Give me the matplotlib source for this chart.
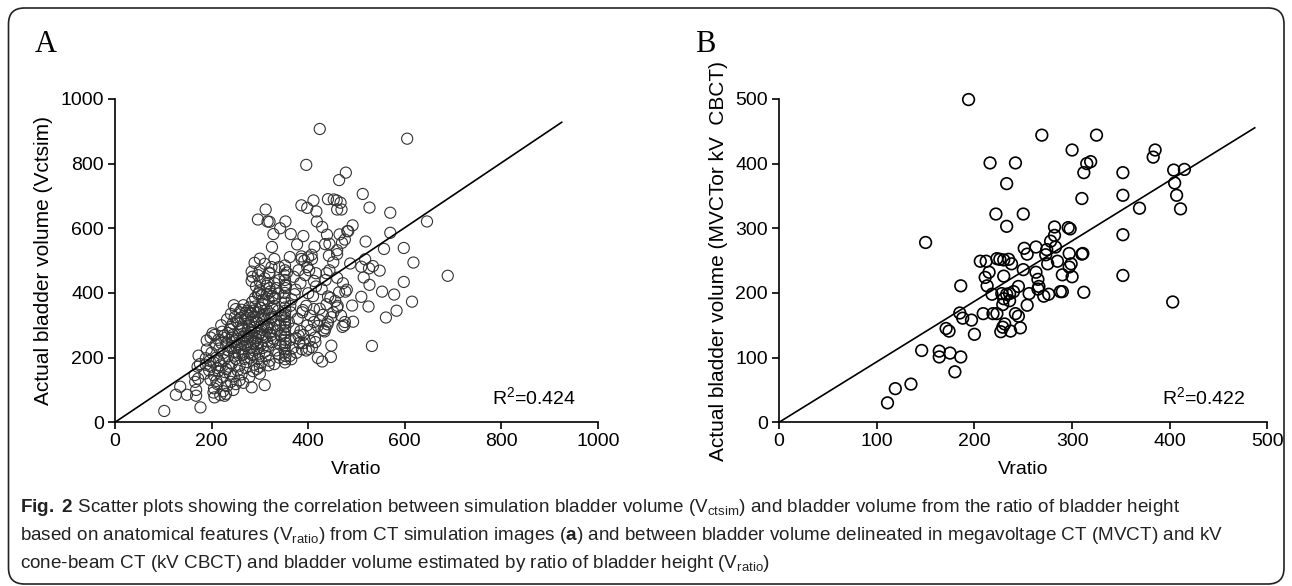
import matplotlib
matplotlib.use("Agg")
import matplotlib.pyplot as plt
from matplotlib.patches import FancyBboxPatch
import numpy as np

plt.rcParams['font.family'] = ['Liberation Sans', 'DejaVu Sans']
plt.rcParams['mathtext.fontset'] = 'custom'
plt.rcParams['mathtext.rm'] = 'Liberation Sans'
plt.rcParams['mathtext.bf'] = 'Liberation Sans:bold'
plt.rcParams['mathtext.it'] = 'Liberation Sans:italic'

# panel A: Vratio vs Vctsim
# sparse / outer points
outer_a = [
    (424, 907), (605, 877), (396, 796), (478, 772), (464, 749), (513, 706),
    (411, 686), (386, 671), (398, 663), (441, 690), (453, 689), (459, 686),
    (467, 679), (460, 658), (469, 658), (312, 658), (296, 627), (316, 621),
    (320, 620), (353, 621), (527, 664), (570, 648), (646, 621), (417, 652),
    (418, 621), (429, 604), (492, 609), (481, 591), (465, 581), (328, 582),
    (364, 582), (342, 600), (390, 576), (439, 580), (570, 586), (519, 559),
    (483, 591), (377, 550), (325, 542), (413, 543), (435, 551), (444, 552),
    (557, 536), (598, 539), (460, 532), (407, 518), (362, 511), (300, 506),
    (289, 493), (386, 513), (443, 515), (487, 491), (518, 504), (618, 494),
    (510, 481), (526, 476), (534, 483), (548, 469), (283, 466), (285, 450),
    (319, 463), (356, 463), (416, 461), (438, 461), (515, 448), (689, 453),
    (598, 434), (283, 437), (314, 422), (354, 422), (412, 437), (460, 447),
    (527, 425), (553, 404), (477, 404), (578, 395), (510, 388), (331, 385),
    (296, 396), (372, 396), (400, 399), (441, 389), (615, 373), (491, 361),
    (525, 358), (561, 324), (583, 345), (461, 360), (424, 351), (389, 347),
    (363, 360), (279, 340), (302, 354), (441, 311), (436, 291), (471, 295),
    (493, 311), (476, 310), (532, 236), (448, 237), (434, 281), (420, 199),
    (447, 202), (429, 188), (380, 268), (363, 255), (403, 253), (415, 248),
    (387, 226), (401, 227), (365, 195), (310, 115), (283, 108), (227, 82),
    (177, 46), (102, 35), (126, 85), (135, 110), (149, 85), (168, 82),
    (168, 100), (166, 125), (165, 146), (171, 172), (173, 206), (190, 253),
    (188, 198), (202, 275), (198, 172), (198, 131), (204, 92), (206, 77),
    (218, 84),
]
# dense core of the cloud
core_a = [
    (205, 105), (212, 118), (224, 96), (232, 112), (240, 125), (250, 118),
    (258, 130), (266, 122), (210, 128), (245, 100), (230, 88),
    (172, 135), (185, 150), (195, 160), (205, 145), (214, 158), (222, 138),
    (230, 165), (238, 150), (246, 142), (254, 160), (262, 148), (270, 168),
    (278, 140), (286, 158), (294, 165), (300, 150), (228, 155), (212, 168),
    (176, 180), (188, 178), (196, 190), (204, 185), (210, 200), (218, 176),
    (226, 192), (234, 204), (242, 182), (250, 196), (258, 175), (264, 208),
    (272, 186), (280, 200), (288, 178), (296, 196), (304, 186), (312, 205),
    (320, 190), (330, 180), (340, 200), (248, 206), (236, 172), (284, 208),
    (300, 172), (318, 176),
    (190, 225), (200, 215), (208, 240), (216, 228), (224, 214), (232, 246),
    (240, 230), (248, 218), (256, 242), (262, 226), (270, 236), (278, 215),
    (286, 244), (294, 228), (302, 240), (310, 218), (318, 235), (326, 248),
    (334, 222), (342, 240), (266, 212), (252, 232), (282, 230), (298, 212),
    (244, 248), (220, 245), (306, 230), (338, 212), (290, 250), (274, 248),
    (198, 262), (206, 270), (214, 255), (222, 280), (230, 262), (238, 288),
    (244, 270), (252, 258), (258, 284), (266, 265), (272, 275), (280, 256),
    (288, 282), (296, 266), (304, 286), (312, 262), (320, 276), (328, 258),
    (336, 284), (344, 268), (256, 270), (262, 252), (276, 290), (292, 260),
    (300, 276), (316, 290), (234, 276), (284, 268), (248, 252), (324, 270),
    (226, 268),
    (220, 300), (232, 318), (240, 295), (248, 325), (256, 305), (264, 296),
    (270, 318), (278, 300), (286, 326), (294, 308), (302, 296), (310, 320),
    (318, 304), (326, 292), (334, 315), (342, 300), (252, 312), (274, 330),
    (290, 295), (306, 328), (322, 322), (260, 322), (244, 306), (282, 310),
    (298, 318), (330, 302), (314, 296),
    (240, 335), (250, 350), (258, 340), (266, 362), (274, 345), (282, 335),
    (290, 358), (298, 340), (306, 366), (314, 348), (322, 336), (330, 360),
    (338, 345), (246, 362), (262, 348), (286, 345), (310, 335), (326, 352),
    (300, 355), (270, 338),
    (290, 385), (298, 400), (306, 378), (314, 395), (322, 405), (330, 382),
    (338, 398), (284, 372), (318, 375), (300, 408), (326, 390),
    (292, 420), (300, 435), (310, 445), (320, 415), (330, 430), (340, 440),
    (316, 430), (300, 470), (310, 490), (320, 460), (330, 505), (340, 480),
    (296, 455), (324, 480),
    (215, 190), (235, 222), (255, 215), (275, 262), (295, 245), (315, 250),
    (262, 290), (282, 285), (305, 270), (242, 262), (268, 196), (288, 222),
    (308, 300), (326, 325), (345, 330), (278, 355), (304, 395), (334, 415),
]
# the stacked column near Vratio = 352
column_a = [
    (352, 185), (352, 195), (353, 205), (352, 215), (351, 225), (352, 235),
    (353, 245), (352, 255), (352, 265), (351, 275), (352, 285), (353, 295),
    (352, 305), (352, 315), (351, 325), (352, 335), (353, 345), (352, 355),
    (352, 370), (351, 385), (352, 400), (353, 415), (352, 425), (352, 440),
    (351, 455), (352, 470), (352, 485),
]
right_a = [
    (362, 205), (368, 230), (375, 260), (382, 245), (390, 270), (398, 300),
    (405, 285), (412, 310), (370, 290), (378, 320), (388, 340), (396, 360),
    (404, 330), (412, 350), (366, 380), (374, 410), (384, 430), (394, 455),
    (402, 470), (410, 390), (416, 420), (380, 470), (392, 500), (400, 510),
    (408, 505), (386, 505), (398, 480), (370, 450), (364, 340), (360, 310),
    (414, 262), (420, 298), (408, 232), (390, 245), (396, 222), (376, 215),
    (384, 282), (424, 315), (430, 332), (438, 365), (446, 385), (452, 340),
    (460, 355), (468, 330), (475, 300), (428, 412), (436, 440), (444, 470),
    (452, 495), (460, 520), (470, 555), (476, 565), (432, 285), (440, 303),
    (448, 325), (456, 375), (464, 402), (472, 430), (480, 410),
]
vratio_a, vctsim_a = zip(*(outer_a + core_a + column_a + right_a))

# panel B: Vratio vs MVCT / kV CBCT volume
points_b = [
    (194, 499), (269, 444), (325, 444), (300, 421), (385, 421), (383, 410),
    (216, 401), (242, 401), (315, 400), (319, 403), (312, 386), (352, 386),
    (404, 390), (415, 391), (405, 370), (407, 351), (352, 351), (310, 346),
    (233, 369), (369, 331), (411, 330), (222, 322), (250, 322), (233, 303),
    (282, 302), (296, 301), (298, 299), (352, 290), (282, 289), (150, 278),
    (278, 280), (263, 271), (251, 269), (283, 271), (274, 267), (254, 260),
    (273, 259), (297, 261), (310, 260), (311, 261), (223, 253), (226, 252),
    (235, 252), (230, 251), (206, 249), (212, 249), (238, 245), (275, 245),
    (285, 249), (299, 245), (297, 240), (250, 236), (215, 232), (263, 232),
    (230, 226), (211, 224), (290, 228), (300, 225), (352, 227), (265, 221),
    (213, 211), (186, 211), (245, 210), (266, 210), (265, 206), (218, 198),
    (228, 199), (233, 198), (236, 199), (240, 202), (256, 199), (271, 195),
    (276, 198), (288, 202), (290, 202), (312, 201), (403, 186), (230, 191),
    (229, 182), (236, 188), (254, 181), (185, 169), (209, 168), (219, 168),
    (223, 168), (242, 168), (245, 164), (188, 161), (197, 158), (171, 145),
    (174, 141), (200, 136), (231, 152), (229, 147), (227, 140), (237, 141),
    (247, 146), (146, 111), (164, 110), (164, 101), (175, 107), (186, 101),
    (180, 78), (135, 59), (119, 52), (111, 30),
]
vratio_b, cbct_b = zip(*points_b)

# regression lines (through origin) and R^2
slope_a, xend_a, r2_a = 1.003, 925, 0.424
slope_b, xend_b, r2_b = 0.935, 487, 0.422

ticks_a = [0, 200, 400, 600, 800, 1000]
ticks_b = [0, 100, 200, 300, 400, 500]

fig = plt.figure(figsize=(12.92, 5.86), dpi=100)

border = FancyBboxPatch((0.085, 0.02), 12.755, 5.76,
                        boxstyle="round,pad=0,rounding_size=0.16",
                        transform=fig.dpi_scale_trans, fill=False,
                        edgecolor='#222222', linewidth=1.2)
fig.patches.append(border)


def style_axes(ax, ticks, lim):
    ax.set_xlim(0, lim)
    ax.set_ylim(0, lim)
    ax.set_xticks(ticks)
    ax.set_yticks(ticks)
    ax.spines['top'].set_visible(False)
    ax.spines['right'].set_visible(False)
    for sp in ('left', 'bottom'):
        ax.spines[sp].set_linewidth(1.2)
    ax.tick_params(direction='out', length=5, width=1.2, labelsize=14, pad=3)
    ax.set_xlabel('Vratio', fontsize=14, labelpad=8)


ax_a = fig.add_axes([0.089, 0.2794, 0.3738, 0.5518])
ax_a.scatter(vratio_a, vctsim_a, s=64, facecolors='none', edgecolors='#333333',
             linewidths=0.8, clip_on=False, zorder=3)
xa = np.array([0, xend_a])
ax_a.plot(xa, slope_a * xa, color='black', linewidth=1.2, zorder=4)
style_axes(ax_a, ticks_a, 1000)
ax_a.set_ylabel('Actual bladder volume (Vctsim)', fontsize=15, labelpad=5)
ax_a.text(868, 77, r'R$\mathregular{^2}$=0.424', fontsize=14, ha='center', va='center')

ax_b = fig.add_axes([0.603, 0.2794, 0.378, 0.5518])
ax_b.scatter(vratio_b, cbct_b, s=70, facecolors='none', edgecolors='black',
             linewidths=1.2, clip_on=False, zorder=3)
xb = np.array([0, xend_b])
ax_b.plot(xb, slope_b * xb, color='black', linewidth=1.2, zorder=4)
style_axes(ax_b, ticks_b, 500)
ax_b.set_ylabel('Actual bladder volume (MVCTor kV  CBCT)', fontsize=15, labelpad=5)
ax_b.text(435, 39, r'R$\mathregular{^2}$=0.422', fontsize=14, ha='center', va='center')

fig.text(35 / 1292, 1 - 45 / 586, 'A', fontsize=22, family='Liberation Serif',
         va='center', ha='left')
fig.text(695 / 1292, 1 - 45 / 586, 'B', fontsize=22, family='Liberation Serif',
         va='center', ha='left')

caption = [
    r'$\mathbf{Fig.\ 2}$ Scatter plots showing the correlation between simulation bladder volume '
    r'($\mathrm{V_{ctsim}}$) and bladder volume from the ratio of bladder height',
    r'based on anatomical features ($\mathrm{V_{ratio}}$) from CT simulation images ($\mathbf{a}$) '
    r'and between bladder volume delineated in megavoltage CT (MVCT) and kV',
    r'cone-beam CT (kV CBCT) and bladder volume estimated by ratio of bladder height '
    r'($\mathrm{V_{ratio}}$)',
]
for i, line in enumerate(caption):
    fig.text(20 / 1292, 1 - (507 + 28 * i) / 586, line, fontsize=13.6,
             va='center', ha='left', color='#222222')

fig.savefig('out.png', dpi=100)
